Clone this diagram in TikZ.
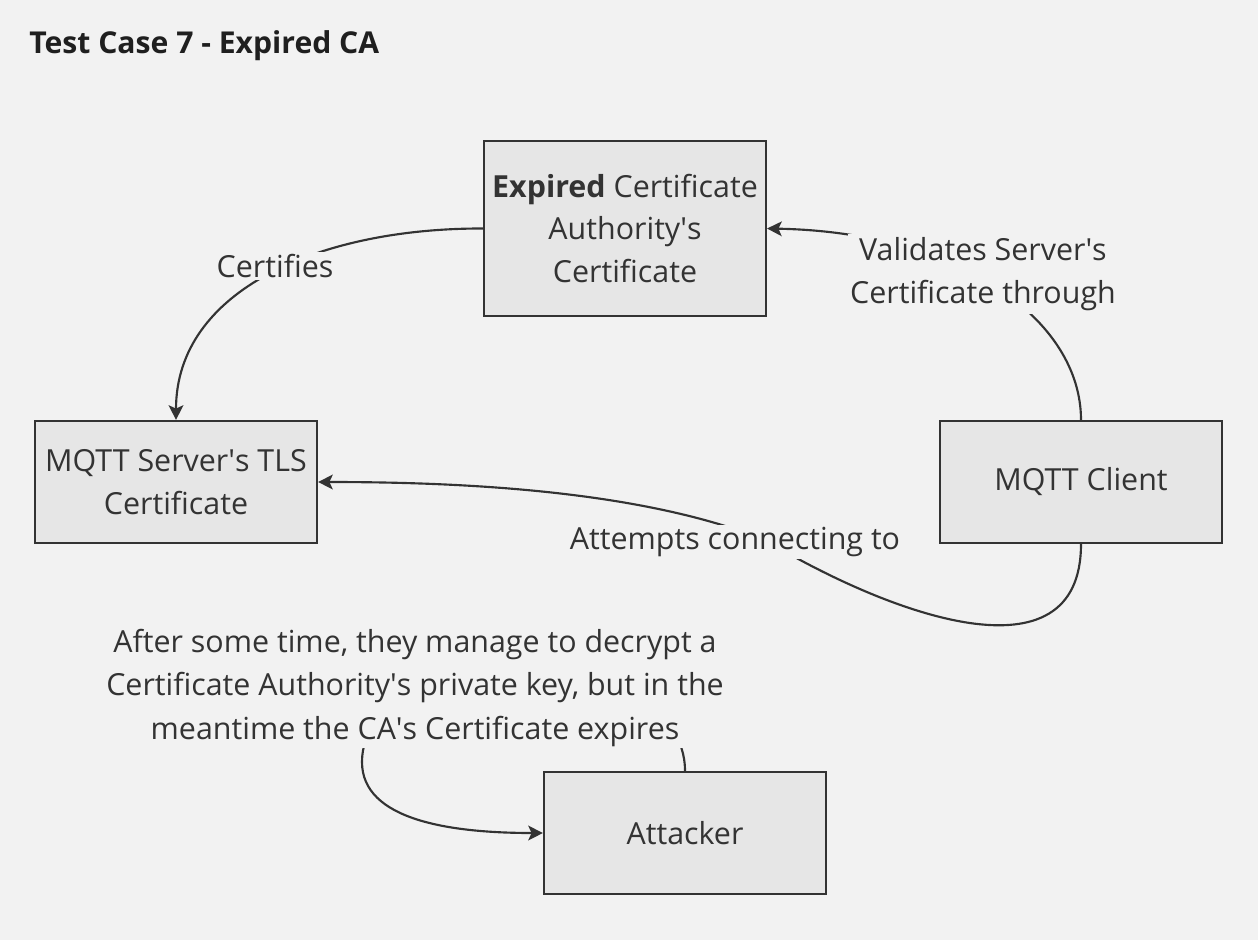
\documentclass[tikz,border=0pt]{standalone}
\usepackage{fontspec}
\setmainfont{Open Sans}
\usetikzlibrary{arrows.meta}
\definecolor{bg}{RGB}{242,242,242}
\definecolor{boxfill}{RGB}{230,230,230}
\definecolor{ink}{RGB}{51,51,51}
\newcommand{\sq}{\textquotesingle}
\begin{document}
\begin{tikzpicture}[x=0.75pt,y=-0.75pt,
  box/.style={draw=ink, line width=1.6pt, fill=boxfill, minimum width=282*0.75pt, inner sep=0pt, align=center, text=ink, font=\fontsize{22.8}{31.8}\selectfont},
  elabel/.style={fill=bg, inner sep=2pt, align=center, text=ink, font=\fontsize{22.8}{32.6}\selectfont},
  conn/.style={draw=ink, line width=1.6pt},
  tip/.style={-{Stealth[length=11pt,width=11pt,inset=2.5pt]}}
]
\fill[bg] (0,0) rectangle (1258,940);
\node[anchor=base west, inner sep=0pt, text=black!88, font=\fontsize{22.6}{26}\selectfont\bfseries] (title) at (29,53) {Test Case 7 - Expired CA};

\node[box, minimum height=175*0.75pt] (ca) at (625,228.5) {\textbf{Expired} Certificate\\Authority\sq s\\Certificate};
\node[box, minimum height=122*0.75pt] (srv) at (176,482) {MQTT Server\sq s TLS\\Certificate};
\node[box, minimum height=122*0.75pt] (cli) at (1081,482) {MQTT Client};
\node[box, minimum height=122*0.75pt] (att) at (685,833) {Attacker};

% Certifies
\draw[conn, tip] (ca.west) .. controls (320,228) and (176,290) .. (srv.north);
\node[elabel] (l1) at (275,266) {Certifies};

% Validates
\draw[conn, tip] (cli.north) .. controls (1081,320) and (960,232) .. (ca.east);
\node[elabel] (l2) at (983,274) {Validates Server\sq s\\Certificate through};

% Attempts connecting to
\coordinate (m3) at (765,540);
\draw[conn, tip] (cli.south) .. controls (1081,685) and (890,615) .. (m3) .. controls (640,490) and (460,482) .. (srv.east);
\node[elabel] (l3) at (735,542) {Attempts connecting to};

% Attacker self loop
\coordinate (m4) at (362,762);
\draw[conn, tip] (att.north) .. controls (685,640) and (362,640) .. (m4) .. controls (362,820) and (450,833) .. (att.west);
\node[elabel, inner sep=1pt] (l4) at (415,688) {After some time, they manage to decrypt a\\Certificate Authority\sq s private key, but in the\\meantime the CA\sq s Certificate expires};
\end{tikzpicture}
\end{document}
